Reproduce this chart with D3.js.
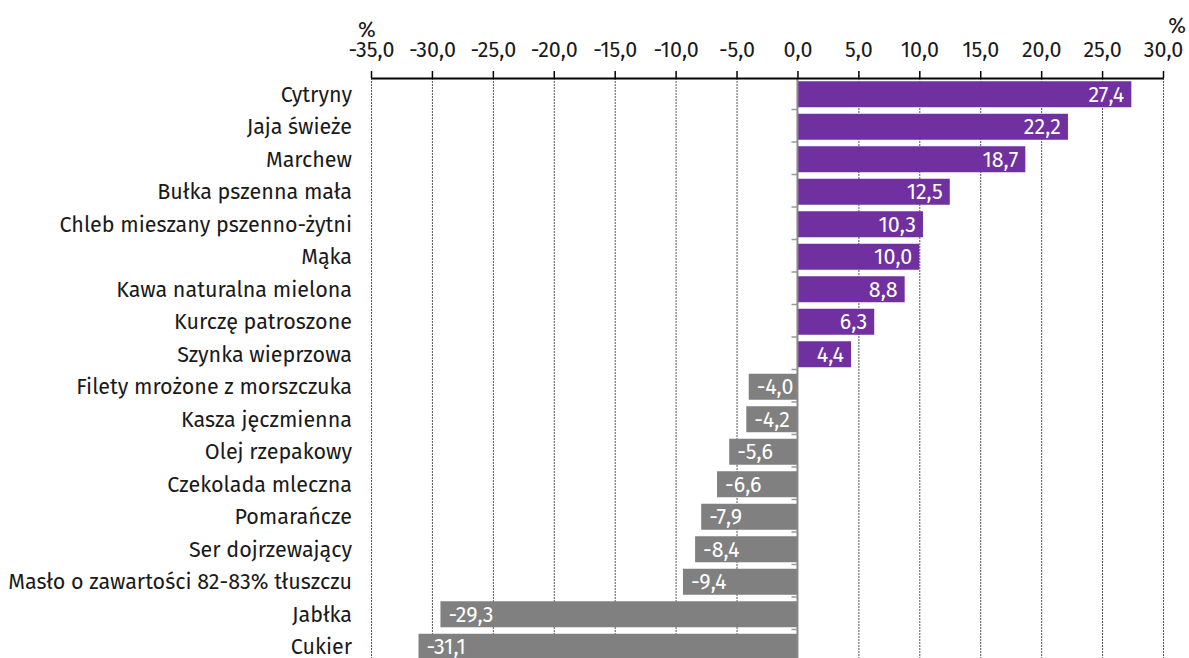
<!DOCTYPE html>
<html>
<head>
<meta charset="utf-8">
<script src="https://cdn.jsdelivr.net/npm/d3@7"></script>
<style>
  body { margin: 0; background: #fff; overflow: hidden; }
  text { font-family: "Fira Sans", "Noto Sans", sans-serif; }
</style>
</head>
<body>
<script>
var categories = [
  "Cytryny",
  "Jaja świeże",
  "Marchew",
  "Bułka pszenna mała",
  "Chleb mieszany pszenno-żytni",
  "Mąka",
  "Kawa naturalna mielona",
  "Kurczę patroszone",
  "Szynka wieprzowa",
  "Filety mrożone z morszczuka",
  "Kasza jęczmienna",
  "Olej rzepakowy",
  "Czekolada mleczna",
  "Pomarańcze",
  "Ser dojrzewający",
  "Masło o zawartości 82-83% tłuszczu",
  "Jabłka",
  "Cukier"
];
var values = [27.4, 22.2, 18.7, 12.5, 10.3, 10.0, 8.8, 6.3, 4.4,
  -4.0, -4.2, -5.6, -6.6, -7.9, -8.4, -9.4, -29.3, -31.1];
var tickValues = [-35, -30, -25, -20, -15, -10, -5, 0, 5, 10, 15, 20, 25, 30];

var width = 1189, height = 658;
var fontSize = 21.5;
var plotLeft = 371, plotRight = 1163, plotTop = 78;
var step = 32.5;

var data = categories.map(function (c, i) {
  return { name: c, value: values[i] };
});

var svg = d3.select("body").append("svg")
  .attr("width", width)
  .attr("height", height);

var x = d3.scaleLinear().domain([-35, 30]).range([plotLeft, plotRight]);
var y = d3.scaleBand()
  .domain(categories)
  .range([plotTop, plotTop + step * categories.length])
  .paddingInner(0.2)
  .paddingOuter(0.1);

var fmt = function (v) { return d3.format(".1f")(v).replace(".", ",").replace("−", "-"); };

// dashed grid
svg.append("g")
  .selectAll("line")
  .data(tickValues.filter(function (t) { return t !== 0; }))
  .enter()
  .append("line")
  .attr("x1", function (d) { return x(d) + 0.5; })
  .attr("x2", function (d) { return x(d) + 0.5; })
  .attr("y1", plotTop)
  .attr("y2", height)
  .attr("stroke", "#555")
  .attr("stroke-width", 1)
  .attr("stroke-dasharray", "2,1");

// bars
svg.append("g")
  .selectAll("rect")
  .data(data)
  .enter()
  .append("rect")
  .attr("x", function (d) { return x(Math.min(0, d.value)); })
  .attr("y", function (d) { return y(d.name); })
  .attr("width", function (d) { return Math.abs(x(d.value) - x(0)); })
  .attr("height", y.bandwidth())
  .attr("fill", function (d) { return d.value >= 0 ? "#7030a0" : "#808080"; });

// value labels
svg.append("g")
  .selectAll("text")
  .data(data)
  .enter()
  .append("text")
  .attr("x", function (d) { return d.value >= 0 ? x(d.value) - 7 : x(d.value) + 8; })
  .attr("y", function (d) { return y(d.name) + y.bandwidth() / 2; })
  .attr("dy", "0.35em")
  .attr("text-anchor", function (d) { return d.value >= 0 ? "end" : "start"; })
  .attr("fill", "#fff")
  .style("font-size", fontSize + "px")
  .text(function (d) { return fmt(d.value); });

// zero line with small ticks
svg.append("line")
  .attr("x1", x(0)).attr("x2", x(0))
  .attr("y1", plotTop).attr("y2", height)
  .attr("stroke", "#888")
  .attr("stroke-width", 2);
svg.append("g")
  .selectAll("line")
  .data(d3.range(1, categories.length))
  .enter()
  .append("line")
  .attr("x1", x(0) - 6).attr("x2", x(0))
  .attr("y1", function (i) { return plotTop + i * step - 1; })
  .attr("y2", function (i) { return plotTop + i * step - 1; })
  .attr("stroke", "#999")
  .attr("stroke-width", 1.5);

// category labels
svg.append("g")
  .selectAll("text")
  .data(data)
  .enter()
  .append("text")
  .attr("x", plotLeft - 19)
  .attr("y", function (d) { return y(d.name) + y.bandwidth() / 2; })
  .attr("dy", "0.35em")
  .attr("text-anchor", "end")
  .attr("fill", "#1a1a1a")
  .style("font-size", fontSize + "px")
  .text(function (d) { return d.name; });

// top axis
var xAxis = d3.axisTop(x)
  .tickValues(tickValues)
  .tickFormat(fmt)
  .tickSize(7)
  .tickPadding(14)
  .tickSizeOuter(0);
var ax = svg.append("g")
  .attr("transform", "translate(0," + plotTop + ")")
  .call(xAxis);
ax.select(".domain").attr("stroke", "#000").attr("stroke-width", 2);
ax.selectAll(".tick line").attr("stroke", "#000").attr("stroke-width", 1.5);
ax.selectAll(".tick text")
  .attr("fill", "#1a1a1a")
  .style("font-size", fontSize + "px")
  .style("font-family", "'Fira Sans', 'Noto Sans', sans-serif");

// unit labels
svg.append("text")
  .attr("x", 358).attr("y", 37)
  .style("font-size", fontSize + "px")
  .attr("fill", "#1a1a1a")
  .text("%");
svg.append("text")
  .attr("x", 1186).attr("y", 33)
  .attr("text-anchor", "end")
  .style("font-size", fontSize + "px")
  .attr("fill", "#1a1a1a")
  .text("%");
</script>
</body>
</html>
